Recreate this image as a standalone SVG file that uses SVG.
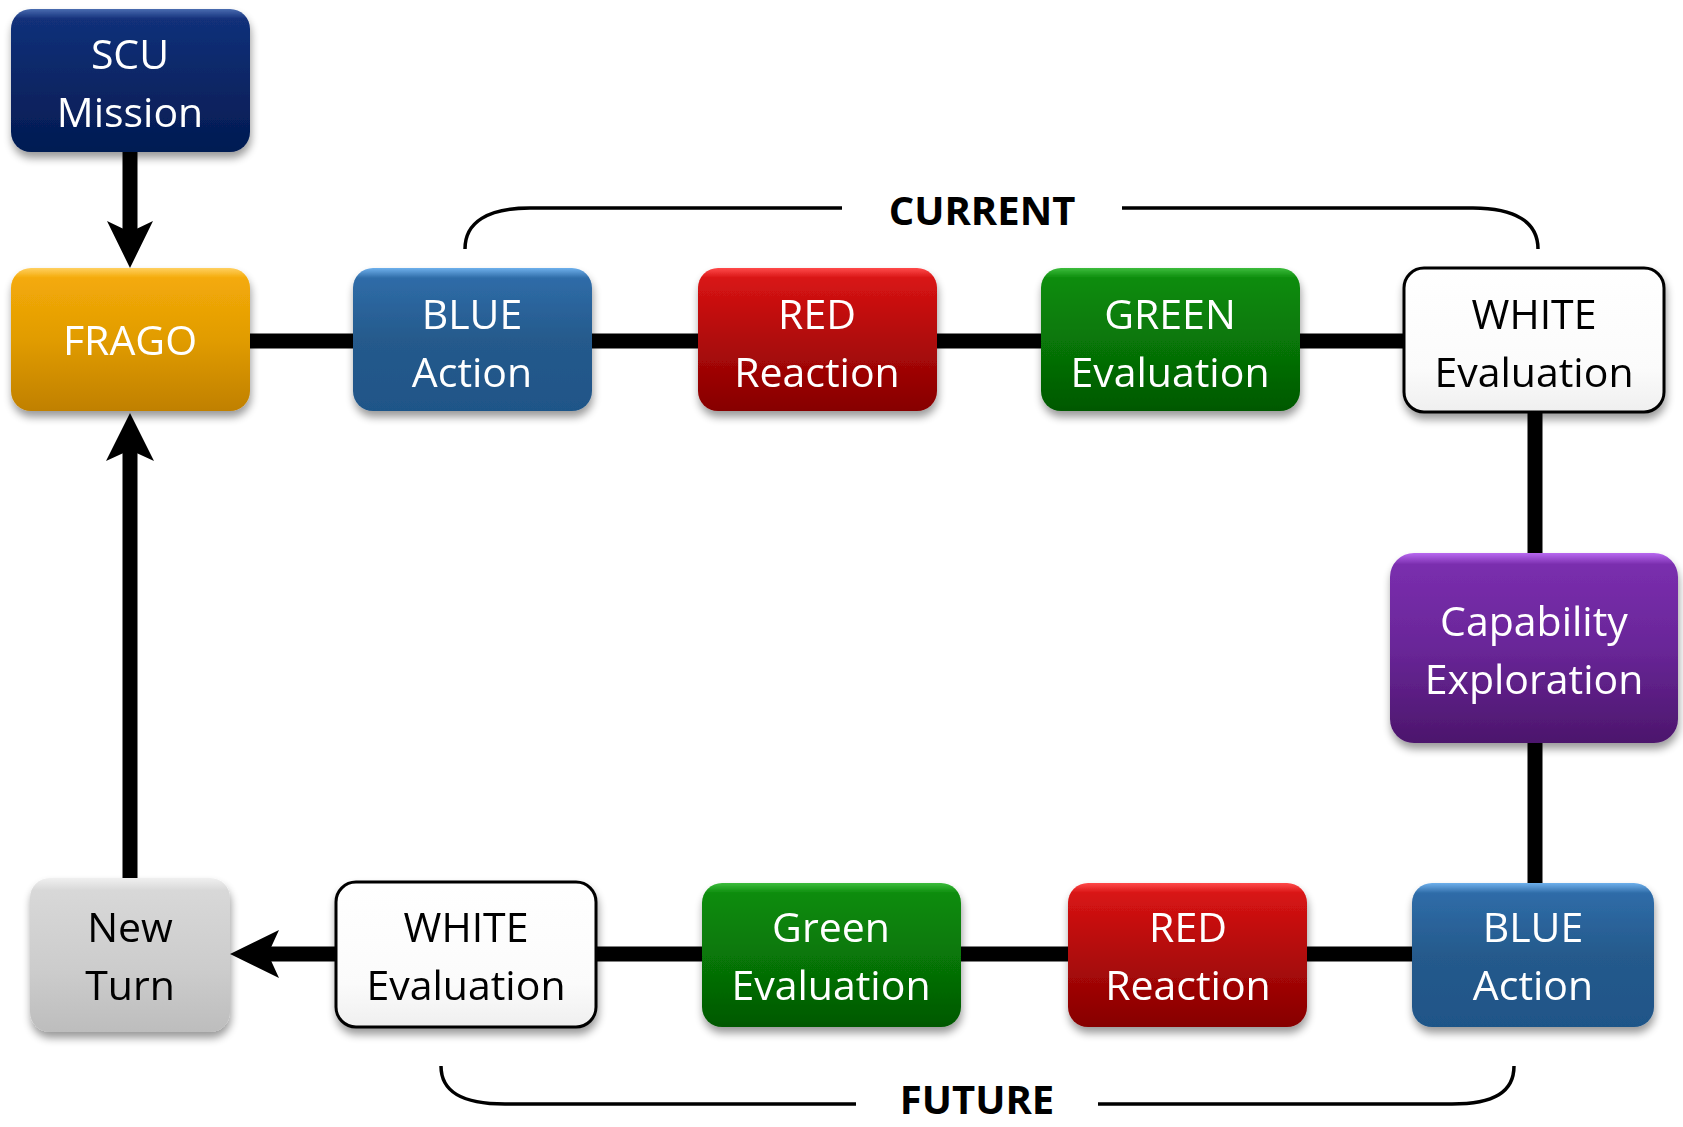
<svg xmlns="http://www.w3.org/2000/svg" width="1683" height="1127" viewBox="0 0 1683 1127">
<defs>
<style>
.t{font-family:"Open Sans","Noto Sans",sans-serif;font-size:41px;text-anchor:middle}
.w{fill:#ffffff}
.k{fill:#000000}
.lbl{font-family:"Open Sans","Noto Sans",sans-serif;font-size:40px;font-weight:bold;text-anchor:middle;fill:#000}
.br{fill:none;stroke:#000;stroke-width:3.5}
.ln{stroke:#000;stroke-width:15;fill:none}
.box{filter:url(#sh)}
</style>
<filter id="sh" x="-10%" y="-10%" width="120%" height="130%">
<feGaussianBlur in="SourceAlpha" stdDeviation="4"/>
<feOffset dx="1" dy="6" result="b"/>
<feComponentTransfer><feFuncA type="linear" slope="0.4"/></feComponentTransfer>
<feMerge><feMergeNode/><feMergeNode in="SourceGraphic"/></feMerge>
</filter>
<linearGradient id="gNavy" x1="0" y1="0" x2="0" y2="1">
<stop offset="0" stop-color="#4a6cb0"/><stop offset="0.07" stop-color="#12307a"/><stop offset="0.5" stop-color="#0a2766"/><stop offset="1" stop-color="#041a52"/>
</linearGradient>
<linearGradient id="gOrange" x1="0" y1="0" x2="0" y2="1">
<stop offset="0" stop-color="#ffd060"/><stop offset="0.07" stop-color="#f4aa08"/><stop offset="0.5" stop-color="#e19c04"/><stop offset="1" stop-color="#c08000"/>
</linearGradient>
<linearGradient id="gBlue" x1="0" y1="0" x2="0" y2="1">
<stop offset="0" stop-color="#6eb0ec"/><stop offset="0.07" stop-color="#2f6ca8"/><stop offset="0.5" stop-color="#255a8c"/><stop offset="1" stop-color="#1f5588"/>
</linearGradient>
<linearGradient id="gRed" x1="0" y1="0" x2="0" y2="1">
<stop offset="0" stop-color="#ff4a4a"/><stop offset="0.07" stop-color="#d81414"/><stop offset="0.5" stop-color="#b00a0a"/><stop offset="1" stop-color="#860000"/>
</linearGradient>
<linearGradient id="gGreen" x1="0" y1="0" x2="0" y2="1">
<stop offset="0" stop-color="#3cbc3c"/><stop offset="0.07" stop-color="#0b8c0b"/><stop offset="0.5" stop-color="#077707"/><stop offset="1" stop-color="#035803"/>
</linearGradient>
<linearGradient id="gPurple" x1="0" y1="0" x2="0" y2="1">
<stop offset="0" stop-color="#b868f0"/><stop offset="0.06" stop-color="#7a2eae"/><stop offset="0.5" stop-color="#692698"/><stop offset="1" stop-color="#4c166c"/>
</linearGradient>
<linearGradient id="gGray" x1="0" y1="0" x2="0" y2="1">
<stop offset="0" stop-color="#f0f0f0"/><stop offset="0.08" stop-color="#d8d8d8"/><stop offset="0.6" stop-color="#cccccc"/><stop offset="1" stop-color="#bdbdbd"/>
</linearGradient>
<linearGradient id="gWhite" x1="0" y1="0" x2="0" y2="1">
<stop offset="0" stop-color="#ffffff"/><stop offset="0.7" stop-color="#fbfbfb"/><stop offset="1" stop-color="#efefef"/>
</linearGradient>
</defs>
<rect width="1683" height="1127" fill="#ffffff"/>

<g id="connectors">
<line class="ln" x1="130" y1="152" x2="130" y2="240"/>
<polygon points="130,268 107,221 130,232 153,221" fill="#000"/>
<line class="ln" x1="250" y1="341" x2="1403" y2="341"/>
<line class="ln" x1="1535" y1="411" x2="1535" y2="883"/>
<line class="ln" x1="596" y1="954" x2="1412" y2="954"/>
<line class="ln" x1="335" y1="954" x2="260" y2="954"/>
<polygon points="230,954 279,930 268,954 279,978" fill="#000"/>
<line class="ln" x1="130" y1="878" x2="130" y2="440"/>
<polygon points="130,413 106,461 130,450 154,461" fill="#000"/>
</g>

<g id="brackets">
<path class="br" d="M465,249 C465,222 488,208 530,208 L842,208"/>
<path class="br" d="M1122,208 L1473,208 C1515,208 1538,222 1538,249"/>
<text class="lbl" x="982" y="225">CURRENT</text>
<path class="br" d="M441,1066 C441,1092 462,1104 505,1104 L856,1104"/>
<path class="br" d="M1098,1104 L1452,1104 C1494,1104 1514,1092 1514,1066"/>
<text class="lbl" x="977" y="1114">FUTURE</text>
</g>

<g id="scu" class="box">
<rect x="11" y="9" width="239" height="143" rx="20" fill="url(#gNavy)"/>
<text class="t w" x="130" y="69">SCU</text>
<text class="t w" x="130" y="127">Mission</text>
</g>

<g id="frago" class="box">
<rect x="11" y="268" width="239" height="143" rx="20" fill="url(#gOrange)"/>
<text class="t w" x="130" y="355">FRAGO</text>
</g>

<g id="blue1" class="box">
<rect x="353" y="268" width="239" height="143" rx="20" fill="url(#gBlue)"/>
<text class="t w" x="472" y="329">BLUE</text>
<text class="t w" x="472" y="387">Action</text>
</g>

<g id="red1" class="box">
<rect x="698" y="268" width="239" height="143" rx="20" fill="url(#gRed)"/>
<text class="t w" x="817" y="329">RED</text>
<text class="t w" x="817" y="387">Reaction</text>
</g>

<g id="green1" class="box">
<rect x="1041" y="268" width="259" height="143" rx="20" fill="url(#gGreen)"/>
<text class="t w" x="1170" y="329">GREEN</text>
<text class="t w" x="1170" y="387">Evaluation</text>
</g>

<g id="white1" class="box">
<rect x="1404" y="268" width="260" height="144" rx="20" fill="url(#gWhite)" stroke="#000" stroke-width="3"/>
<text class="t k" x="1534" y="329">WHITE</text>
<text class="t k" x="1534" y="387">Evaluation</text>
</g>

<g id="capability" class="box">
<rect x="1390" y="553" width="288" height="190" rx="24" fill="url(#gPurple)"/>
<text class="t w" x="1534" y="636">Capability</text>
<text class="t w" x="1534" y="694">Exploration</text>
</g>

<g id="blue2" class="box">
<rect x="1412" y="883" width="242" height="144" rx="20" fill="url(#gBlue)"/>
<text class="t w" x="1533" y="942">BLUE</text>
<text class="t w" x="1533" y="1000">Action</text>
</g>

<g id="red2" class="box">
<rect x="1068" y="883" width="239" height="144" rx="20" fill="url(#gRed)"/>
<text class="t w" x="1188" y="942">RED</text>
<text class="t w" x="1188" y="1000">Reaction</text>
</g>

<g id="green2" class="box">
<rect x="702" y="883" width="259" height="144" rx="20" fill="url(#gGreen)"/>
<text class="t w" x="831" y="942">Green</text>
<text class="t w" x="831" y="1000">Evaluation</text>
</g>

<g id="white2" class="box">
<rect x="336" y="882" width="260" height="145" rx="20" fill="url(#gWhite)" stroke="#000" stroke-width="3"/>
<text class="t k" x="466" y="942">WHITE</text>
<text class="t k" x="466" y="1000">Evaluation</text>
</g>

<g id="newturn" class="box">
<rect x="30" y="878" width="200" height="154" rx="20" fill="url(#gGray)"/>
<text class="t k" x="130" y="942">New</text>
<text class="t k" x="130" y="1000">Turn</text>
</g>
</svg>
